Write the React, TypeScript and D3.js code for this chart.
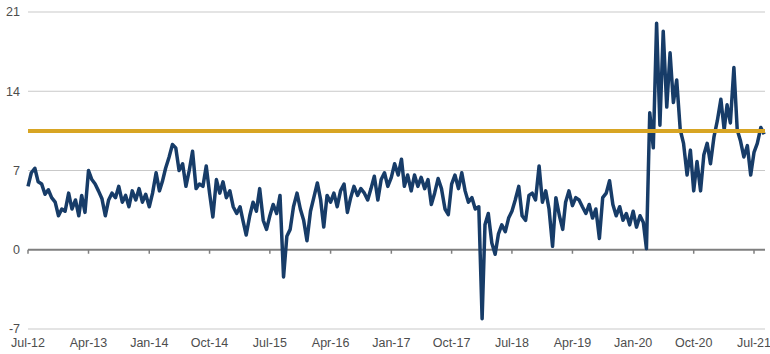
import React, { useEffect, useRef } from 'react';
import * as d3 from 'd3';

// semi-monthly readings, first one at Jul 2012
const startMonth = '2012-07-01';
const values: number[] = [
  // 2012 Jul-Dec
  5.6, 6.8, 7.2, 6.0, 5.8, 4.9, 5.3, 4.6, 4.2, 3.0, 3.6, 3.4,
  // 2013
  5.0, 3.6, 4.4, 3.0, 4.8, 3.3, 7.0, 6.2, 5.8, 5.2, 4.5, 3.0,
  4.4, 5.0, 4.6, 5.6, 4.2, 4.8, 3.8, 5.2, 4.4, 5.4, 4.2, 4.9,
  // 2014
  3.8, 5.0, 6.8, 5.2, 6.0, 7.2, 8.2, 9.3, 9.0, 7.0, 7.6, 5.6,
  7.0, 8.7, 5.4, 5.8, 5.6, 7.4, 5.0, 2.9, 6.2, 5.0, 6.0, 4.6,
  // 2015
  5.2, 3.8, 3.2, 3.8, 2.6, 1.3, 3.0, 4.2, 3.4, 5.4, 2.6, 1.8,
  3.0, 4.0, 3.2, 4.8, -2.4, 1.2, 1.8, 3.8, 5.0, 3.6, 2.6, 0.8,
  // 2016
  3.4, 4.6, 5.9, 4.4, 2.0, 4.8, 4.2, 5.0, 3.8, 5.2, 5.8, 3.3,
  4.6, 5.6, 4.8, 5.4, 5.0, 4.4, 5.4, 6.5, 4.4, 6.2, 6.8, 5.6,
  // 2017
  6.4, 7.6, 6.6, 8.0, 5.6, 6.6, 5.2, 6.6, 5.6, 6.4, 5.4, 6.2,
  4.0, 5.0, 6.3, 5.4, 3.6, 3.1, 5.8, 6.6, 5.4, 6.8, 5.2, 4.2,
  // 2018
  4.6, 3.6, 3.8, -6.1, 2.2, 3.2, 0.6, -0.4, 1.4, 2.2, 1.6, 2.8,
  3.4, 4.4, 5.6, 3.0, 2.6, 4.8, 5.0, 4.4, 7.4, 4.2, 5.2, 3.6,
  // 2019
  0.3, 4.6, 3.0, 1.8, 4.2, 5.2, 3.9, 4.6, 4.4, 3.8, 3.2, 4.0,
  2.8, 3.6, 1.0, 4.6, 5.0, 6.1, 4.0, 3.0, 3.8, 2.6, 3.2, 2.2,
  // 2020
  3.4, 2.0, 3.0, 2.4, 0.1, 12.1, 9.0, 20.0, 11.0, 19.3, 12.6, 17.4,
  13.0, 15.0, 10.6, 9.4, 6.6, 8.8, 5.2, 7.8, 5.2, 8.4, 9.4, 7.6,
  // 2021 Jan-Aug
  10.0, 11.4, 13.3, 10.6, 12.8, 11.2, 16.1, 10.6, 9.6, 8.2, 9.2, 6.6,
  8.6, 9.4, 10.8, 10.2,
];

const yTicks = [-7, 0, 7, 14, 21];
const xTickLabels = [
  'Jul-12', 'Apr-13', 'Jan-14', 'Oct-14', 'Jul-15', 'Apr-16', 'Jan-17',
  'Oct-17', 'Jul-18', 'Apr-19', 'Jan-20', 'Oct-20', 'Jul-21',
];
const referenceLevel = 10.5;

const width = 770;
const height = 354;

const App = () => {
  const svgRef = useRef<SVGSVGElement>(null);

  useEffect(() => {
    const svg = d3.select(svgRef.current);
    svg.selectAll('*').remove();

    const parseMonth = d3.timeParse('%b-%y');
    const start = d3.timeParse('%Y-%m-%d')(startMonth) as Date;
    const points = values.map((v, i) => ({
      date: d3.timeDay.offset(d3.timeMonth.offset(start, Math.floor(i / 2)), i % 2 ? 15 : 0),
      value: v,
    }));
    const tickDates = xTickLabels.map(l => parseMonth(l) as Date);

    const x = d3.scaleTime()
      .domain([tickDates[0], tickDates[tickDates.length - 1]])
      .range([28, 754]);
    const y = d3.scaleLinear().domain([-7, 21]).range([329, 12]);
    const gridRight = 765;

    // horizontal gridlines
    svg.append('g')
      .selectAll('line')
      .data(yTicks.filter(t => t !== 0))
      .enter().append('line')
      .attr('x1', 28).attr('x2', gridRight)
      .attr('y1', d => y(d)).attr('y2', d => y(d))
      .style('stroke', '#c9c9c9')
      .style('stroke-width', 1);

    // y labels
    svg.append('g')
      .selectAll('text')
      .data(yTicks)
      .enter().append('text')
      .attr('x', 20)
      .attr('y', d => y(d))
      .attr('dy', '0.35em')
      .attr('text-anchor', 'end')
      .style('font-family', 'Liberation Sans, Arial, sans-serif')
      .style('font-size', '12.5px')
      .style('fill', '#4d4d4d')
      .text(d => d);

    // zero axis with ticks
    svg.append('line')
      .attr('x1', 28).attr('x2', gridRight)
      .attr('y1', y(0)).attr('y2', y(0))
      .style('stroke', '#7f7f7f')
      .style('stroke-width', 2);
    svg.append('g')
      .selectAll('line')
      .data(tickDates)
      .enter().append('line')
      .attr('x1', d => x(d)).attr('x2', d => x(d))
      .attr('y1', y(0)).attr('y2', y(0) + 4)
      .style('stroke', '#7f7f7f')
      .style('stroke-width', 1.5);

    // x labels
    svg.append('g')
      .selectAll('text')
      .data(tickDates)
      .enter().append('text')
      .attr('x', d => x(d))
      .attr('y', 347)
      .attr('text-anchor', 'middle')
      .style('font-family', 'Liberation Sans, Arial, sans-serif')
      .style('font-size', '12.5px')
      .style('fill', '#4d4d4d')
      .text((d, i) => xTickLabels[i]);

    const line = d3.line<{ date: Date; value: number }>()
      .x(d => x(d.date))
      .y(d => y(d.value));

    svg.append('path')
      .datum(points)
      .attr('d', line)
      .style('fill', 'none')
      .style('stroke', '#173c68')
      .style('stroke-width', 3.5)
      .style('stroke-linejoin', 'round');

    // reference level
    svg.append('line')
      .attr('x1', 28).attr('x2', gridRight)
      .attr('y1', y(referenceLevel)).attr('y2', y(referenceLevel))
      .style('stroke', '#d8a523')
      .style('stroke-width', 4);
  }, []);

  return (
    <svg
      ref={svgRef}
      width={width}
      height={height}
      style={{ position: 'absolute', left: 0, top: 0, background: '#fff' }}
    />
  );
};

export default App;
